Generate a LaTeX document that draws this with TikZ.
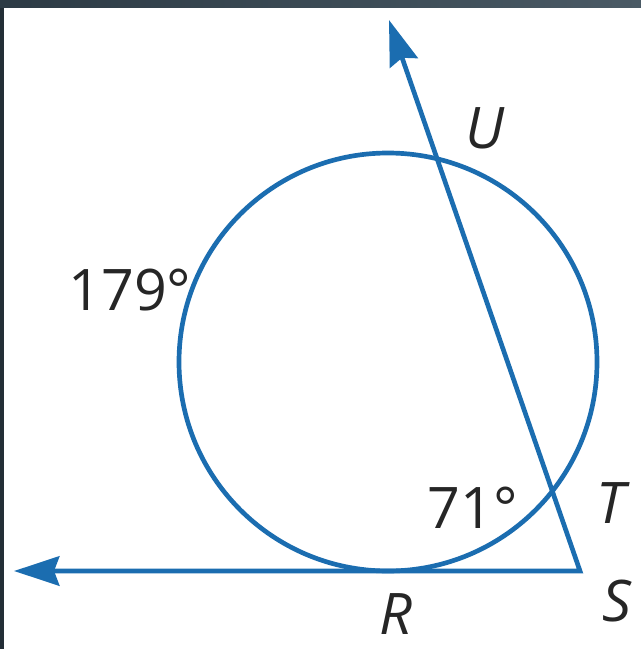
\documentclass[tikz,border=0pt]{standalone}
\usepackage{fontspec}
\setmainfont{Open Sans}
\usetikzlibrary{arrows.meta}
\definecolor{geoblue}{HTML}{1B6DB0}
\definecolor{frameA}{HTML}{2C3A44}
\definecolor{frameB}{HTML}{4A5A65}
\begin{document}
\begin{tikzpicture}[x=0.75pt,y=-0.75pt,font=\fontsize{43}{47}\selectfont,
  geo/.style={draw=geoblue,line width=3.5pt},
  ray/.style={geo,line join=miter,
    {Stealth[length=34pt,width=22pt,inset=4pt]}-{Stealth[length=34pt,width=22pt,inset=4pt]}},
  lbl/.style={inner sep=0pt,text=black!85},
  pt/.style={lbl,font=\fontsize{43}{47}\selectfont\itshape}]
% frame
\fill[white] (0,0) rectangle (641,649);
\shade[left color=frameA,right color=frameB] (0,0) rectangle (641,8);
\fill[frameA!80!black] (0,8) rectangle (4,649);
\useasboundingbox (0,0) rectangle (641,649);
% circle and secant/tangent rays
\coordinate (O) at (388,362);
\coordinate (S) at (580,571);
\coordinate (tipL) at (14,571);
\coordinate (tipU) at (389,20);
\draw[geo] (O) circle[radius=209];
\draw[ray] (tipU) -- (S) -- (tipL);
% labels
\node[pt] (U) at (485,128) {U};
\node[pt] (T) at (611,503) {T};
\node[pt] (Sl) at (617,601) {S};
\node[pt] (R) at (396,614) {R};
\node[lbl] (arcbig) at (130,290) {179°};
\node[lbl] (arcsmall) at (473,508) {71°};
\end{tikzpicture}
\end{document}
